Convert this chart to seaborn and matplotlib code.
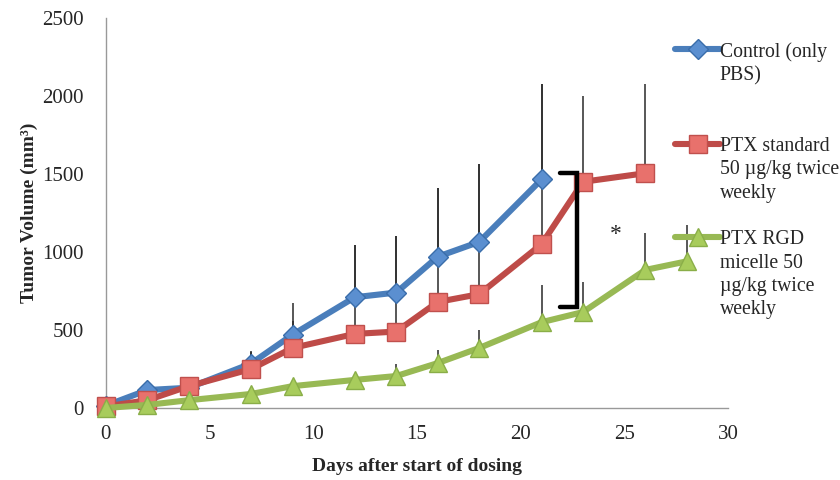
import matplotlib
matplotlib.use("Agg")
import matplotlib.pyplot as plt
import seaborn as sns
import pandas as pd
import numpy as np

# ---- data ----
days_control = [0, 2, 4, 7, 9, 12, 14, 16, 18, 21]
control = [15, 115, 130, 285, 470, 710, 740, 970, 1065, 1465]
control_err_top = [15, 115, 190, 365, 670, 1045, 1100, 1410, 1565, 2080]

days_std = [0, 2, 4, 7, 9, 12, 14, 16, 18, 21, 23, 26]
ptx_std = [10, 50, 140, 250, 385, 475, 490, 680, 730, 1050, 1450, 1505]
std_err_top = [10, 50, 190, 360, 560, 1045, 1100, 1410, 1565, 2080, 2000, 2080]

days_rgd = [0, 2, 4, 7, 9, 12, 14, 16, 18, 21, 23, 26, 28]
ptx_rgd = [0, 20, 50, 90, 140, 180, 205, 288, 385, 550, 615, 885, 940]
rgd_err_top = [0, 20, 50, 90, 140, 180, 282, 372, 500, 788, 808, 1122, 1173]

labels = ["Control (only\nPBS)\n", "PTX standard\n50 \u00b5g/kg twice\nweekly",
          "PTX RGD\nmicelle 50\n\u00b5g/kg twice\nweekly"]
x_ticks = [0, 5, 10, 15, 20, 25, 30]
y_ticks = [0, 500, 1000, 1500, 2000, 2500]

# significance bracket (data coords)
bracket_x = [21.9, 22.7]
bracket_y = [650, 1505]
star_pos = (24.6, 1110)

sns.set_theme(style="white")
plt.rcParams['font.family'] = ['Liberation Serif', 'DejaVu Serif']

fig = plt.figure(figsize=(8.4, 4.8), dpi=100)
ax = fig.add_axes([0.126, 0.15, 0.741, 0.8125])

series = [
    (days_control, control, control_err_top, "#4A7EBB", "D", "#5B8FD0", "#3A6DAA", 10.5),
    (days_std, ptx_std, std_err_top, "#BE4B48", "s", "#E8716C", "#C0504D", 12.5),
    (days_rgd, ptx_rgd, rgd_err_top, "#98B954", "^", "#A8CC5C", "#8AAE48", 12.5),
]

for (d, v, top, lc, mk, fc, ec, ms), lab in zip(series, labels):
    v = np.array(v, float)
    err = np.array(top, float) - v
    ax.errorbar(d, v, yerr=[np.zeros_like(err), err], fmt="none",
                ecolor="#2a2a2a", elinewidth=1.1, capsize=0, zorder=1)
    df = pd.DataFrame({"day": d, "vol": v})
    sns.lineplot(data=df, x="day", y="vol", ax=ax, color=lc, linewidth=4.4,
                 marker=mk, markersize=ms, markerfacecolor=fc,
                 markeredgecolor=ec, markeredgewidth=1.0, zorder=3,
                 label=lab)

# bracket and asterisk
ax.plot([bracket_x[0], bracket_x[1], bracket_x[1], bracket_x[0]],
        [bracket_y[1], bracket_y[1], bracket_y[0], bracket_y[0]],
        color="black", lw=3.2, solid_joinstyle="miter", zorder=4)
ax.text(star_pos[0], star_pos[1], "*", fontsize=17, ha="center", va="center")

ax.set_xlim(0, 30)
ax.set_ylim(0, 2500)
ax.set_xticks(x_ticks)
ax.set_yticks(y_ticks)
ax.set_xticklabels([str(t) for t in x_ticks], fontsize=15)
ax.set_yticklabels([str(t) for t in y_ticks], fontsize=15)
ax.set_xlabel("Days after start of dosing", fontsize=14, fontweight="bold", labelpad=10)
ax.set_ylabel("Tumor Volume (mm\u00b3)", fontsize=14, fontweight="bold", labelpad=3)

for s in ["top", "right"]:
    ax.spines[s].set_visible(False)
for s in ["left", "bottom"]:
    ax.spines[s].set_color("#999999")
    ax.spines[s].set_linewidth(1.0)
ax.tick_params(axis="y", which="both", direction="out", length=5,
               color="#999999", width=1.0, pad=11)
ax.tick_params(axis="x", which="both", direction="out", length=5,
               color="#999999", width=1.0, pad=7)
ax.margins(0)
for ln in ax.lines:
    ln.set_clip_on(False)

leg = ax.legend(loc="upper left", bbox_to_anchor=(0.915, 0.937), frameon=False,
                fontsize=14.2, handlelength=2.25, handletextpad=0.0,
                labelspacing=1.4, borderaxespad=0, borderpad=0)
for col in leg._legend_handle_box.get_children():
    for hp in col.get_children():
        hp.align = "top"
for t in leg.get_texts():
    t.set_linespacing(1.31)

fig.savefig("out.png", dpi=100)
